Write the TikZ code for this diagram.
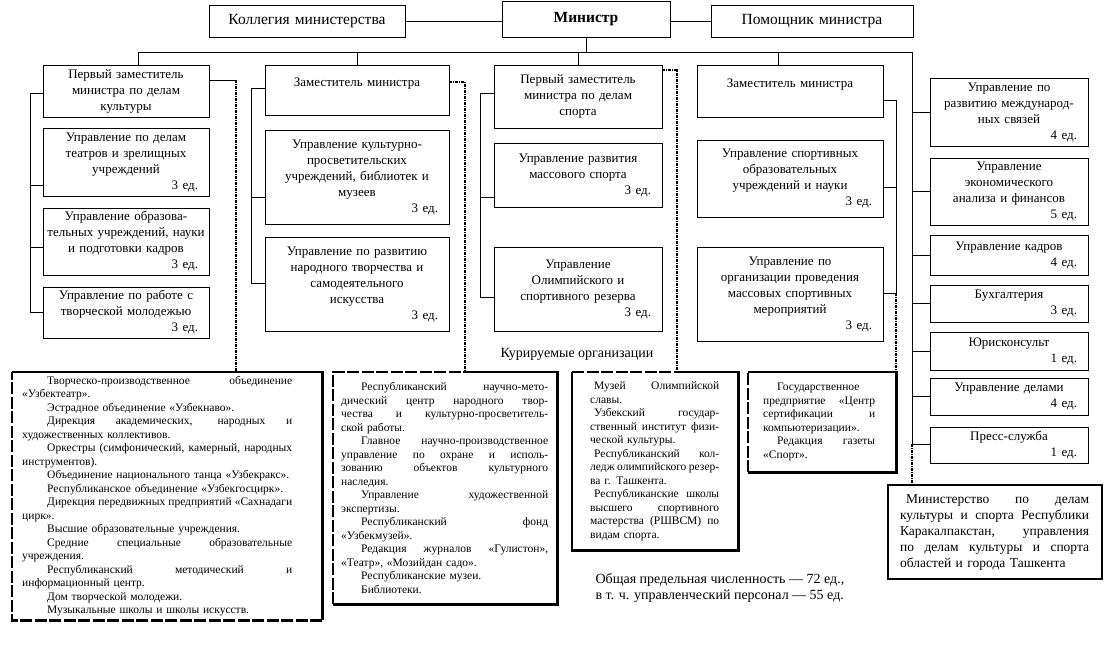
\documentclass[tikz,border=0pt]{standalone}
\usepackage{fontspec}
\setmainfont{Liberation Serif}
\newlength\jw
\newcommand\JL[1]{\leavevmode\hbox to\jw{\spaceskip=.25em plus 1fil minus .1em\relax #1}}
\newcommand\ed[1]{\mbox{}\hfill #1~ед.\hbox to 8pt{}}
\newcommand\ind{\hspace*{25pt}}
\newcommand\bx[7][]{%
  \pgfmathsetmacro\bxw{#4-#2}\pgfmathsetmacro\bxh{#5-#3}%
  \pgfmathsetmacro\bxcx{(#2+#4)/2}\pgfmathsetmacro\bxcy{(#3+#5)/2}%
  \pgfmathsetmacro\bxt{#4-#2-6}%
  \node[box,minimum width=\bxw pt,minimum height=\bxh pt,text width=\bxt pt,#1] (#6) at (\bxcx,\bxcy) {#7};}
\begin{document}
\begin{tikzpicture}[x=1pt,y=-1pt,
  box/.style={draw,line width=0.8pt,inner xsep=3pt,inner ysep=0pt,align=center,font=\fontsize{13}{16}\selectfont},
  obox/.style={inner ysep=0pt,align=left,anchor=north west,font=\fontsize{11.5}{13.5}\selectfont},
  ln/.style={line width=0.8pt},
  dl/.style={line width=2pt,dash pattern=on 3pt off 1pt on 1pt off 1pt},
  bb/.style={line width=2.2pt},
  bbd/.style={line width=2.2pt,dash pattern=on 12pt off 2.5pt},
  big/.style={font=\fontsize{15.5}{18}\selectfont}]
\fill[white] (0,0) rectangle (1108,648);
\useasboundingbox (0,0) rectangle (1108,648);

% top row
\bx[big]{209}{5}{405}{37}{kol}{Коллегия министерства}
\bx[font=\fontsize{15.5}{18}\selectfont\bfseries]{502}{1}{670}{37}{min}{Министр}
\bx[big]{711}{5}{913}{37}{pom}{Помощник министра}

% column 1
\bx{43}{65}{209}{117}{B1}{Первый заместитель\\министра по делам\\культуры}
\bx{43}{128}{209}{196}{B2}{Управление по делам\\театров и зрелищных\\учреждений\\\ed{3}}
\bx{43}{208}{209}{275}{B3}{Управление образова-\\тельных учреждений, науки\\и подготовки кадров\\\ed{3}}
\bx{43}{287}{209}{338}{B4}{Управление по работе с\\творческой молодежью\\\ed{3}}

% column 2
\bx{265}{65}{449}{115}{C1}{Заместитель министра\\\mbox{}}
\bx{265}{130}{449}{224}{C2}{Управление культурно-\\просветительских\\учреждений, библиотек и\\музеев\\\ed{3}}
\bx{265}{237}{449}{331}{C3}{Управление по развитию\\народного творчества и\\самодеятельного\\искусства\\\ed{3}}

% column 3
\bx{494}{65}{662}{128}{D1}{Первый заместитель\\министра по делам\\спорта}
\bx{494}{143}{662}{207}{D2}{Управление развития\\массового спорта\\\ed{3}}
\bx{494}{247}{662}{331}{D3}{Управление\\Олимпийского и\\спортивного резерва\\\ed{3}}

% column 4
\bx{697}{65}{883}{117}{E1}{Заместитель министра\\\mbox{}}
\bx{697}{140}{883}{217}{E2}{Управление спортивных\\образовательных\\учреждений и науки\\\ed{3}}
\bx{697}{247}{883}{341}{E3}{Управление по\\организации проведения\\массовых спортивных\\мероприятий\\\ed{3}}

% right column
\bx{930}{78}{1088}{146}{R1}{Управление по\\развитию международ-\\ных связей\\\ed{4}}
\bx{930}{158}{1088}{225}{R2}{Управление\\экономического\\анализа и финансов\\\ed{5}}
\bx{930}{235}{1088}{275}{R3}{Управление кадров\\\ed{4}}
\bx{930}{285}{1088}{322}{R4}{Бухгалтерия\\\ed{3}}
\bx{930}{332}{1088}{370}{R5}{Юрисконсульт\\\ed{1}}
\bx{930}{378}{1088}{415}{R6}{Управление делами\\\ed{4}}
\bx{930}{427}{1088}{463}{R7}{Пресс-служба\\\ed{1}}

% label
\node[font=\fontsize{14}{16}\selectfont] (kur) at (577,354) {Курируемые организации};

% bottom boxes
\setlength\jw{270pt}
\node[obox,inner xsep=10pt,text width=290pt,minimum width=310pt,minimum height=248pt] (k1) at (12,372) {%
\JL{\ind Творческо-производственное объединение}\\
«Узбектеатр».\\
\ind Эстрадное объединение «Узбекнаво».\\
\JL{\ind Дирекция академических, народных и}\\
художественных коллективов.\\
\JL{\ind Оркестры (симфонический, камерный, народных}\\
инструментов).\\
\ind Объединение национального танца «Узбекракс».\\
\ind Республиканское объединение «Узбекгосцирк».\\
\JL{\ind Дирекция передвижных предприятий «Сахнадаги}\\
цирк».\\
\ind Высшие образовательные учреждения.\\
\JL{\ind Средние специальные образовательные}\\
учреждения.\\
\JL{\ind Республиканский методический и}\\
информационный центр.\\
\ind Дом творческой молодежи.\\
\ind Музыкальные школы и школы искусств.};

\setlength\jw{207pt}
\node[obox,inner xsep=8pt,text width=208pt,minimum width=224pt,minimum height=232pt] (k2) at (333,372) {%
\JL{\hspace*{20pt}Республиканский научно-мето-}\\
\JL{дический центр народного твор-}\\
\JL{чества и культурно-просветитель-}\\
ской работы.\\
\JL{\hspace*{20pt}Главное научно-производственное}\\
\JL{управление по охране и исполь-}\\
\JL{зованию объектов культурного}\\
наследия.\\
\JL{\hspace*{20pt}Управление художественной}\\
экспертизы.\\
\JL{\hspace*{20pt}Республиканский фонд}\\
«Узбекмузей».\\
\JL{\hspace*{20pt}Редакция журналов «Гулистон»,}\\
«Театр», «Мозийдан садо».\\
\hspace*{20pt}Республиканские музеи.\\
\hspace*{20pt}Библиотеки.};

\setlength\jw{129pt}
\node[obox,inner xsep=18pt,text width=130pt,minimum width=166pt,minimum height=178pt] (k3) at (572,372) {%
\JL{\hspace*{4pt}Музей Олимпийской}\\
славы.\\
\JL{\hspace*{4pt}Узбекский государ-}\\
\JL{ственный институт физи-}\\
ческой культуры.\\
\JL{\hspace*{4pt}Республиканский кол-}\\
\JL{ледж олимпийского резер-}\\
ва г. Ташкента.\\
\JL{\hspace*{4pt}Республиканские школы}\\
\JL{высшего спортивного}\\
\JL{мастерства (РШВСМ) по}\\
видам спорта.};

\setlength\jw{112pt}
\node[obox,inner xsep=15pt,text width=118pt,minimum width=148pt,minimum height=100pt] (k4) at (748,372) {%
\hspace*{14pt}Государственное\\
\JL{предприятие «Центр}\\
\JL{сертификации и}\\
компьютеризации».\\
\JL{\hspace*{14pt}Редакция газеты}\\
«Спорт».};

\setlength\jw{189pt}
\node[obox,draw,bb,inner xsep=12pt,text width=190pt,minimum width=214pt,minimum height=94pt,font=\fontsize{13.5}{16}\selectfont] (mk) at (887,484) {%
\JL{\hspace*{6pt}Министерство по делам}\\
\JL{культуры и спорта Республики}\\
\JL{Каракалпакстан, управления}\\
\JL{по делам культуры и спорта}\\
областей и города Ташкента};

% borders of bottom boxes
\draw[bb] (k1.north west) -- (k1.north east) -- (k1.south east);
\draw[bbd] (k1.south east) -- (k1.south west) -- (k1.north west);
\coordinate (cC) at (465,82);
\coordinate (dD) at (677,70);
\draw[bbd] (k2.south west) -- (k2.north west) -- (k2.north west -| cC);
\draw[bb] (k2.north west -| cC) -- (k2.north east) -- (k2.south east) -- (k2.south west);
\draw[bbd] (k3.north west) -- (k3.north west -| dD);
\draw[bb] (k3.north west -| dD) -- (k3.north east) -- (k3.south east) -- (k3.south west) -- (k3.north west);
\draw[bbd] (k4.south west) -- (k4.north west);
\draw[bb] (k4.north west) -- (k4.north east) -- (k4.south east) -- (k4.south west);

% text below
\node[anchor=north west,align=left,font=\fontsize{14}{16}\selectfont] (tot) at (592,570) {Общая предельная численность — 72 ед.,\\в т. ч. управленческий персонал — 55 ед.};

% top connectors
\draw[ln] (kol.east) -- (kol.east -| min.west);
\draw[ln] (pom.west) -- (pom.west -| min.east);
\coordinate (busL) at (138,52);
\coordinate (busR) at (912,52);
\coordinate (busE) at (778,52);
\draw[ln] (min.south) -- (min.south |- busL);
\draw[ln] (busL) -- (busR);
\draw[ln] (busL) -- (busL |- B1.north);
\draw[ln] (C1.north |- busL) -- (C1.north);
\draw[ln] (D1.north |- busL) -- (D1.north);
\draw[ln] (busE) -- (busE |- E1.north);

% column 1 rail
\coordinate (a1) at (30,93);
\coordinate (a2) at (30,185);
\coordinate (a3) at (30,247);
\coordinate (a4) at (30,312);
\draw[ln] (a1) -- (a4);
\draw[ln] (a1) -- (a1 -| B1.west);
\draw[ln] (a2) -- (a2 -| B2.west);
\draw[ln] (a3) -- (a3 -| B3.west);
\draw[ln] (a4) -- (a4 -| B4.west);
\coordinate (bB) at (236,80);
\draw[ln] (B1.east |- bB) -- (bB);
\draw[dl] (bB) -- (bB |- k1.north);

% column 2 rail
\coordinate (c1) at (251,88);
\coordinate (c2) at (251,197);
\coordinate (c3) at (251,283);
\draw[ln] (c1) -- (c3);
\draw[ln] (c1) -- (c1 -| C1.west);
\draw[ln] (c2) -- (c2 -| C2.west);
\draw[ln] (c3) -- (c3 -| C3.west);
\draw[dl] (C1.east |- cC) -- (cC) -- (cC |- k2.north);

% column 3 rail
\coordinate (d1) at (480,93);
\coordinate (d2) at (480,197);
\coordinate (d3) at (480,297);
\draw[ln] (d1) -- (d3);
\draw[ln] (d1) -- (d1 -| D1.west);
\draw[ln] (d2) -- (d2 -| D2.west);
\draw[ln] (d3) -- (d3 -| D3.west);
\draw[dl] (D1.east |- dD) -- (dD) -- (dD |- k3.north);

% column 4 rail
\coordinate (e1) at (896,100);
\coordinate (e2) at (896,187);
\coordinate (e3) at (896,293);
\draw[ln] (e1) -- (e3);
\draw[ln] (e1) -- (e1 -| E1.east);
\draw[ln] (e2) -- (e2 -| E2.east);
\draw[ln] (e3) -- (e3 -| E3.east);
\draw[dl] (e3) -- (e3 |- k4.north);

% right rail
\coordinate (rB) at (912,444);
\draw[ln] (busR) -- (rB);
\foreach \r in {R1,R2,R3,R4,R5,R6}{\draw[ln] (\r.west -| busR) -- (\r.west);}
\draw[ln] (rB) -- (rB -| R7.west);
\draw[dl] (rB) -- (rB |- mk.north);
\end{tikzpicture}
\end{document}
